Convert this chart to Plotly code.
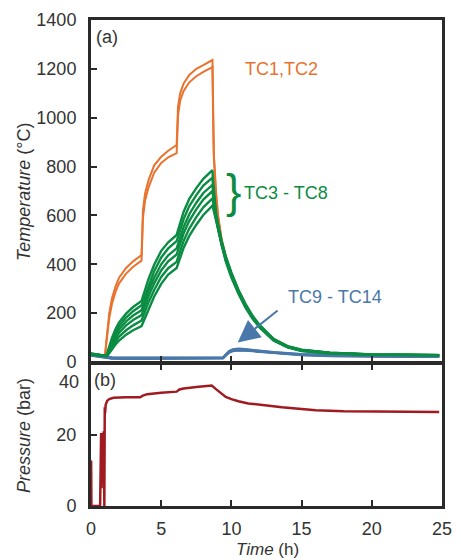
import plotly.graph_objects as go

# ---------------- data ----------------
T_TIME = [0, 0.5, 1.0, 1.1, 1.2, 1.3, 1.5, 1.75, 2.0, 2.5, 3.0, 3.6, 3.7, 3.85, 4.1, 4.5, 5.0, 5.5,
          6.1, 6.2, 6.35, 6.6, 7.0, 7.5, 8.0, 8.65, 8.7, 8.75, 8.9, 9.05, 9.3, 9.6, 10.0, 10.5,
          11.0, 11.5, 12.0, 13.0, 14.0, 15.0, 17.0, 20.0, 24.8]

TC1 = [35, 30, 26, 90, 150, 200, 262, 310, 345, 385, 412, 438, 620, 690, 745, 805, 840, 865,
       888, 1045, 1100, 1140, 1175, 1200, 1215, 1236, 1040, 850, 700, 600, 505, 432, 364, 293,
       234, 187, 150, 94, 64, 49, 38, 31, 29]
TC2 = [33, 29, 25, 80, 135, 180, 240, 288, 322, 362, 390, 415, 590, 660, 715, 775, 815, 838,
       855, 1010, 1070, 1110, 1145, 1170, 1188, 1207, 990, 840, 690, 595, 500, 428, 361, 290,
       232, 186, 149, 93, 63, 48, 37, 31, 28]

TC3 = [35, 30, 27, 25, 45, 65, 100, 135, 162, 198, 225, 250, 268, 295, 340, 398, 455, 490,
       520, 540, 570, 615, 668, 712, 750, 785, 740, 700, 612, 565, 496, 432, 366, 296,
       238, 190, 152, 95, 65, 50, 38, 31, 29]
TC4 = [34, 29, 26, 25, 40, 58, 90, 122, 148, 182, 208, 232, 248, 273, 315, 372, 428, 465,
       495, 513, 542, 585, 638, 683, 722, 755, 715, 682, 604, 558, 491, 428, 362, 292,
       235, 187, 150, 93, 64, 49, 38, 31, 28]
TC5 = [33, 28, 26, 25, 36, 52, 80, 110, 134, 166, 190, 212, 228, 252, 292, 345, 400, 437,
       465, 483, 510, 553, 605, 652, 692, 725, 695, 665, 598, 553, 487, 424, 358, 289,
       232, 185, 148, 92, 63, 48, 37, 31, 28]
TC6 = [32, 28, 25, 25, 33, 46, 72, 98, 120, 150, 172, 192, 208, 232, 270, 322, 375, 412,
       440, 458, 485, 527, 578, 625, 665, 700, 678, 652, 593, 549, 483, 420, 354, 286,
       229, 183, 146, 91, 62, 47, 37, 30, 28]
TC7 = [31, 27, 25, 25, 30, 40, 62, 84, 104, 130, 150, 170, 185, 208, 245, 295, 348, 384,
       410, 428, 455, 496, 546, 593, 633, 670, 655, 636, 588, 545, 479, 416, 350, 283,
       226, 180, 144, 89, 61, 46, 36, 30, 27]
TC8 = [30, 27, 25, 25, 28, 35, 52, 72, 88, 112, 130, 147, 160, 182, 218, 268, 320, 358,
       385, 402, 428, 468, 516, 562, 602, 640, 630, 618, 583, 541, 475, 412, 346, 280,
       223, 178, 142, 88, 60, 45, 35, 29, 27]

B_TIME = [0, 0.5, 1.0, 1.5, 3.0, 5.0, 7.0, 9.0, 9.4, 9.6, 9.85, 10.1, 10.5, 11.0, 12.0, 13.0,
          15.0, 17.0, 20.0, 22.5, 24.8]
TC9 = [31, 27, 22, 19, 18, 18, 18, 18, 19, 32, 46, 52, 55, 53, 47, 41, 33, 29, 26, 25, 25]
TC10 = [30, 26, 21, 18, 17, 17, 17, 17, 18, 30, 45, 50, 53, 51, 45, 40, 32, 28, 25, 24, 24]
TC11 = [29, 25, 19, 16, 15, 15, 15, 16, 17, 29, 43, 49, 51, 50, 44, 38, 31, 27, 24, 23, 23]
TC12 = [28, 24, 18, 15, 14, 14, 14, 15, 16, 27, 42, 47, 50, 48, 43, 37, 30, 26, 23, 22, 22]
TC13 = [27, 23, 17, 14, 13, 13, 13, 14, 15, 26, 40, 46, 48, 47, 42, 36, 29, 25, 22, 21, 21]
TC14 = [26, 22, 16, 13, 12, 12, 12, 13, 14, 25, 39, 44, 47, 46, 41, 35, 28, 24, 21, 20, 20]

P_TIME = [0, 0.01, 0.03, 0.65, 0.68, 0.7, 0.72, 0.75, 0.8, 0.85, 0.9, 0.95, 0.98, 1.0, 1.05,
          1.15, 1.3, 1.6, 2.5, 3.5, 3.7, 4.0, 5.0, 6.1, 6.3, 6.6, 7.5, 8.5, 8.6, 8.9, 9.2, 9.6,
          10.0, 10.5, 11.2, 12.5, 13.6, 15.0, 16.0, 18.0, 20.0, 22.5, 24.8]
PRESSURE = [0, 12.8, 0, 0, 14, 0, 20.5, 5, 19, 10, 21, 0, 27.7, 26, 28.5,
            29.5, 30.0, 30.4, 30.5, 30.5, 31.0, 31.4, 31.8, 32.1, 32.7, 33.0, 33.4, 33.7, 33.8,
            32.8, 31.8, 30.6, 30.0, 29.4, 28.8, 28.1, 27.7, 27.2, 26.9, 26.6, 26.5, 26.4, 26.4]

TEMP_TICKS = [0, 200, 400, 600, 800, 1000, 1200, 1400]
PRES_TICKS = [0, 20]
TIME_TICKS = [0, 5, 10, 15, 20, 25]

ORANGE = "#E8732E"
GREEN = "#0B8C43"
BLUE = "#4A78AA"
RED = "#A01B21"
AXC = "#2a2a2a"
TXT = "#333333"
FONT = "Liberation Sans, Arial, sans-serif"

fig = go.Figure()

for ys in [TC14, TC13, TC12, TC11, TC10, TC9]:
    fig.add_trace(go.Scatter(x=B_TIME, y=ys, mode="lines", line=dict(color=BLUE, width=2),
                             xaxis="x", yaxis="y", showlegend=False))
for ys in [TC1, TC2]:
    fig.add_trace(go.Scatter(x=T_TIME, y=ys, mode="lines", line=dict(color=ORANGE, width=2),
                             xaxis="x", yaxis="y", showlegend=False))
for ys in [TC3, TC4, TC5, TC6, TC7, TC8]:
    fig.add_trace(go.Scatter(x=T_TIME, y=ys, mode="lines", line=dict(color=GREEN, width=2.4),
                             xaxis="x", yaxis="y", showlegend=False))

fig.add_trace(go.Scatter(x=P_TIME, y=PRESSURE, mode="lines", line=dict(color=RED, width=2.5),
                         xaxis="x2", yaxis="y2", showlegend=False))

axis_common = dict(showgrid=False, zeroline=False, linecolor=AXC, linewidth=3,
                   ticks="inside", ticklen=6, tickwidth=2, tickcolor=AXC,
                   tickfont=dict(family=FONT, size=18, color=TXT))

fig.update_layout(
    width=461, height=560,
    margin=dict(l=91, r=9, t=20, b=54),
    paper_bgcolor="white", plot_bgcolor="white",
    xaxis=dict(axis_common, domain=[0, 1], anchor="y", range=[0, 25], tickvals=TIME_TICKS,
               showticklabels=False, mirror=True),
    yaxis=dict(axis_common, domain=[0.2963, 1], anchor="x", range=[0, 1400],
               tickvals=TEMP_TICKS, mirror=True, ticklabelstandoff=8),
    xaxis2=dict(axis_common, domain=[0, 1], anchor="y2", range=[0, 25], tickvals=TIME_TICKS,
                mirror="ticks", ticklabelstandoff=4),
    yaxis2=dict(axis_common, domain=[0, 0.2932], anchor="x2", range=[0, 40],
                tickvals=PRES_TICKS, mirror=True, ticklabelstandoff=8),
)

ann_font = dict(family=FONT, size=18)
annotations = [
    dict(text="(a)", x=0.2, y=1331, xref="x", yref="y", xanchor="left", yanchor="middle",
         showarrow=False, font=dict(ann_font, color=TXT)),
    dict(text="(b)", x=0.1, y=35.5, xref="x2", yref="y2", xanchor="left", yanchor="middle",
         showarrow=False, font=dict(ann_font, color=TXT)),
    dict(text="40", x=0, y=34.8, xref="paper", yref="y2", xanchor="right", yanchor="middle",
         xshift=-10, showarrow=False, font=dict(ann_font, color=TXT)),
    dict(text="TC1,TC2", x=10.85, y=1201, xref="x", yref="y", xanchor="left", yanchor="middle",
         showarrow=False, font=dict(ann_font, color=ORANGE)),
    dict(text="}", x=9.5, y=700, xref="x", yref="y", xanchor="left", yanchor="middle",
         showarrow=False, font=dict(family=FONT, size=46, color=GREEN)),
    dict(text="TC3 - TC8", x=10.75, y=690, xref="x", yref="y", xanchor="left", yanchor="middle",
         showarrow=False, font=dict(ann_font, color=GREEN)),
    dict(text="TC9 - TC14", x=13.9, y=268, xref="x", yref="y", xanchor="left", yanchor="middle",
         showarrow=False, font=dict(ann_font, color=BLUE)),
    dict(text="", x=10.45, y=80, ax=13.4, ay=216, xref="x", yref="y", axref="x", ayref="y",
         showarrow=True, arrowhead=2, arrowsize=2.2, arrowwidth=2, arrowcolor=BLUE),
    dict(text="<i>Temperature</i> (°C)", x=-0.191, y=0.648, xref="paper", yref="paper",
         xanchor="center", yanchor="middle", textangle=-90, showarrow=False,
         font=dict(ann_font, color=TXT)),
    dict(text="<i>Pressure</i> (bar)", x=-0.191, y=0.146, xref="paper", yref="paper",
         xanchor="center", yanchor="middle", textangle=-90, showarrow=False,
         font=dict(ann_font, color=TXT)),
    dict(text="<i>Time</i> (h)", x=0.504, y=-0.1111, xref="paper", yref="paper",
         xanchor="center", yanchor="bottom", showarrow=False, borderpad=0,
         font=dict(family=FONT, size=17, color=TXT)),
]
fig.update_layout(annotations=annotations)

fig.write_html("out.html")
